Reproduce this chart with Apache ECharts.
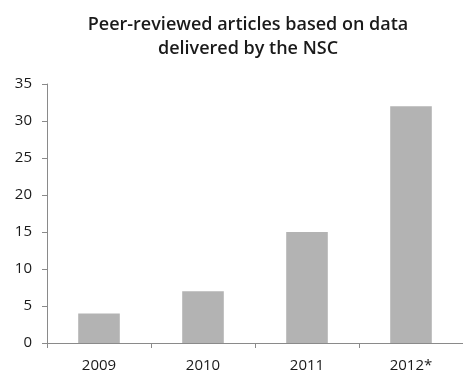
<!DOCTYPE html>
<html>
<head>
<meta charset="utf-8">
<script src="https://cdn.jsdelivr.net/npm/echarts@6/dist/echarts.min.js"></script>
<style>
  html, body { margin: 0; padding: 0; background: #fff; }
  #chart { width: 463px; height: 374px; }
</style>
</head>
<body>
<div id="chart"></div>
<script>
// Publication counts per year
const years = ['2009', '2010', '2011', '2012*'];
const articles = [4, 7, 15, 32];
const yTicks = { min: 0, max: 35, interval: 5 };

const chart = echarts.init(document.getElementById('chart'), null, { renderer: 'canvas' });
const labelFont = '"Open Sans", "DejaVu Sans", sans-serif';

chart.setOption({
  animation: false,
  backgroundColor: '#ffffff',
  title: {
    text: 'Peer-reviewed articles based on data\ndelivered by the NSC',
    left: 243,
    textAlign: 'center',
    top: 8,
    textStyle: {
      fontFamily: labelFont,
      fontSize: 18,
      fontWeight: 600,
      color: '#1a1a1a',
      lineHeight: 24
    }
  },
  grid: { left: 47, right: -4, top: 84, bottom: 31, containLabel: false },
  xAxis: {
    type: 'category',
    data: years,
    boundaryGap: true,
    axisLine: { lineStyle: { color: '#8a8a8a', width: 1 } },
    axisTick: { show: true, alignWithLabel: false, length: 5, lineStyle: { color: '#8a8a8a' } },
    axisLabel: { color: '#1a1a1a', fontFamily: labelFont, fontSize: 15, margin: 15 },
    splitLine: { show: false }
  },
  yAxis: {
    type: 'value',
    min: yTicks.min,
    max: yTicks.max,
    interval: yTicks.interval,
    axisLine: { show: true, lineStyle: { color: '#8a8a8a', width: 1 } },
    axisTick: { show: true, length: 5, lineStyle: { color: '#8a8a8a' } },
    axisLabel: { color: '#1a1a1a', fontFamily: labelFont, fontSize: 15, margin: 15 },
    splitLine: { show: false }
  },
  series: [{
    type: 'bar',
    data: articles,
    barWidth: '40%',
    itemStyle: { color: '#b3b3b3' },
    silent: true
  }]
});
</script>
</body>
</html>
